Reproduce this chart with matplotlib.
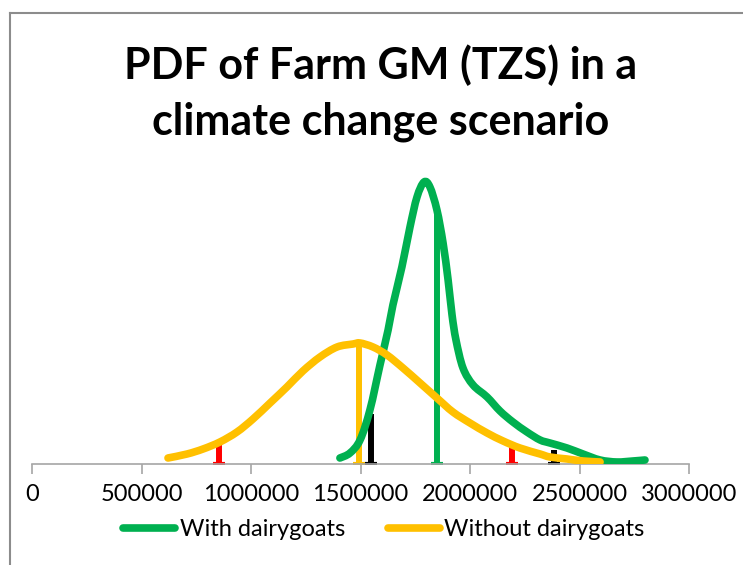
import matplotlib
matplotlib.use("Agg")
import matplotlib.pyplot as plt
from matplotlib.lines import Line2D
from matplotlib.path import Path
from matplotlib.patches import PathPatch

plt.rcParams['font.family'] = ['Lato', 'DejaVu Sans']

# PDF of farm gross margin (TZS), relative density
with_x = [1406000, 1452000, 1498000, 1543000, 1589000, 1626000, 1648000, 1689000,
          1726000, 1758000, 1790000, 1817000, 1849000, 1877000, 1900000, 1918000,
          1936000, 1968000, 2014000, 2078000, 2137000, 2196000, 2260000, 2320000,
          2365000, 2443000, 2516000, 2594000, 2671000, 2744000, 2799000]
with_y = [6, 11, 24, 54, 99, 134, 159, 197, 237, 267, 282, 277, 254, 221, 184, 149,
          124, 96, 79, 67, 53, 42, 32, 24, 21, 16, 10, 4, 2, 3, 4]

without_x = [621000, 708000, 781000, 858000, 936000, 1009000, 1087000, 1164000,
             1237000, 1315000, 1393000, 1466000, 1498000, 1557000, 1621000, 1694000,
             1772000, 1849000, 1922000, 2000000, 2078000, 2151000, 2228000, 2320000,
             2365000, 2443000, 2516000, 2594000]
without_y = [6, 10, 15, 22, 32, 45, 61, 77, 93, 107, 117, 120, 121, 117, 109, 96,
             81, 66, 52, 41, 31, 23, 16, 10, 7, 5, 3, 2]

# mean lines and percentile markers
marks_x = [1849000, 1493000, 855000, 2190000, 1548000, 2385000]
marks_y = [250, 120, 20, 18, 50, 14]
marks_c = ['#00B050', '#FFC000', '#FF0000', '#FF0000', '#000000', '#000000']

legend_labels = ['With dairygoats', 'Without dairygoats']
title_lines = ['PDF of Farm GM (TZS) in a', 'climate change scenario']


def smooth_path(xs, ys):
    # Excel-style smoothed line: bezier segments through the points
    pts = list(zip(xs, ys))
    n = len(pts)
    verts = [pts[0]]
    codes = [Path.MOVETO]
    for i in range(n - 1):
        p0 = pts[max(i - 1, 0)]
        p1 = pts[i]
        p2 = pts[i + 1]
        p3 = pts[min(i + 2, n - 1)]
        c1 = (p1[0] + (p2[0] - p0[0]) / 6, p1[1] + (p2[1] - p0[1]) / 6)
        c2 = (p2[0] - (p3[0] - p1[0]) / 6, p2[1] - (p3[1] - p1[1]) / 6)
        verts += [c1, c2, p2]
        codes += [Path.CURVE4] * 3
    return Path(verts, codes)


fig = plt.figure(figsize=(7.43, 5.65), dpi=100)
ax = fig.add_axes([32/743, 101/565, 657/743, 300/565])

for x, h, c in zip(marks_x, marks_y, marks_c):
    ax.vlines(x, 0, h, colors=c, lw=4.3, zorder=2)
    ax.plot([x], [0], marker='_', ms=9, mew=3, color=c, zorder=2)

for xs, ys, c, z in [(with_x, with_y, '#00B050', 3), (without_x, without_y, '#FFC000', 4)]:
    ax.add_patch(PathPatch(smooth_path(xs, ys), fill=False, edgecolor=c, lw=5.5,
                           capstyle='round', joinstyle='round', zorder=z))

ax.set_xlim(0, 3000000)
ax.set_ylim(0, 300)
ax.set_xticks(range(0, 3000001, 500000))
ax.set_xticklabels([str(v) for v in range(0, 3000001, 500000)], fontsize=17)
ax.set_yticks([])
for s in ['left', 'right', 'top']:
    ax.spines[s].set_visible(False)
ax.spines['bottom'].set_color('#A6A6A6')
ax.spines['bottom'].set_linewidth(1.2)
ax.tick_params(axis='x', length=7.5, width=1.2, color='#A6A6A6', pad=7)

fig.text(381/743, 1 - 79/565, title_lines[0], ha='center', va='baseline',
         fontsize=31, fontweight='bold')
fig.text(381/743, 1 - 135/565, title_lines[1], ha='center', va='baseline',
         fontsize=31, fontweight='bold')

handles = [Line2D([], [], color='#00B050', lw=5.5, solid_capstyle='round'),
           Line2D([], [], color='#FFC000', lw=5.5, solid_capstyle='round')]
fig.legend(handles, legend_labels, loc='center', bbox_to_anchor=(384/743, 1 - 530/565),
           ncol=2, frameon=False, fontsize=17, handlelength=2.2, handletextpad=0.2,
           columnspacing=1.8)

# chart border (top-left corner visible)
fig.add_artist(Line2D([10/743, 10/743], [0, 1 - 13/565], color='#8C8C8C', lw=1.5))
fig.add_artist(Line2D([10/743, 1], [1 - 13/565, 1 - 13/565], color='#8C8C8C', lw=1.5))

fig.savefig('out.png', dpi=100)
